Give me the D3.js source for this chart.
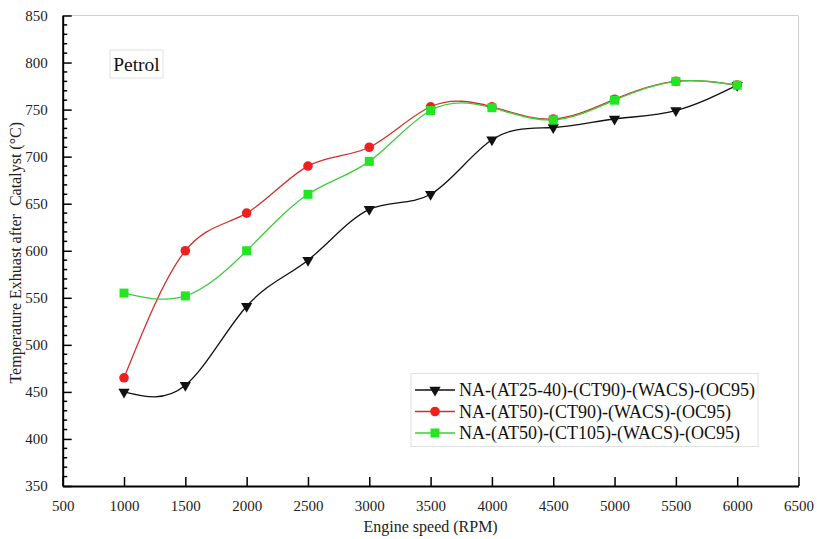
<!DOCTYPE html>
<html><head><meta charset="utf-8">
<script src="https://cdn.jsdelivr.net/npm/d3@7"></script>
<style>body{margin:0;background:#fff}svg{display:block}text{font-family:"Liberation Serif","Times New Roman",serif}</style>
</head><body>
<svg id="c" width="817" height="539"></svg>
<script>
const rpm = [1000,1500,2000,2500,3000,3500,4000,4500,5000,5500,6000];
const seriesNames = ["NA-(AT25-40)-(CT90)-(WACS)-(OC95)","NA-(AT50)-(CT90)-(WACS)-(OC95)","NA-(AT50)-(CT105)-(WACS)-(OC95)"];
const blackVals = [450,457,541,590,644,660,718,731,740,749,776];
const redVals   = [465,600,640,690,710,753,753,740,761,780,776];
const greenVals = [555,552,600,660,695,749,752,739,760,780,776];
const xTicks = [500,1000,1500,2000,2500,3000,3500,4000,4500,5000,5500,6000,6500];
const yTicks = [350,400,450,500,550,600,650,700,750,800,850];
const xTitle = "Engine speed (RPM)";
const yTitle = "Temperature Exhuast after  Catalyst (°C)";
const panelLabel = "Petrol";

const svg = d3.select("#c");
const L=62.7, R=798.5, T=15.5, B=486;
const x = d3.scaleLinear().domain([500,6500]).range([L,R]);
const y = d3.scaleLinear().domain([350,850]).range([B,T]);
const font = '"Liberation Serif","Times New Roman",serif';

// frame (top/right grey)
svg.append("path").attr("d",`M${L},${T}H${R}V${B}`).attr("fill","none").attr("stroke","#cfcfcf").attr("stroke-width",1);

// axes
const xAxis = d3.axisBottom(x).tickValues(xTicks).tickSizeInner(-9).tickSizeOuter(0).tickPadding(14).tickFormat(d3.format("d"));
const gx = svg.append("g").attr("transform",`translate(0,${B})`).call(xAxis);
gx.attr("font-family",null);
gx.select(".domain").attr("stroke","#000").attr("stroke-width",2);
gx.selectAll(".tick line").attr("stroke","#000").attr("stroke-width",1.5);
gx.selectAll("text").style("font-family",font).style("font-size","15px").attr("fill","#222");

const yMinor = d3.range(360,850,10).filter(v=>v%50!==0);
svg.append("g").selectAll("line").data(yMinor).join("line")
  .attr("x1",L).attr("x2",L+4.5).attr("y1",d=>y(d)).attr("y2",d=>y(d)).attr("stroke","#000").attr("stroke-width",1.5);
const yAxis = d3.axisLeft(y).tickValues(yTicks).tickSizeInner(-9).tickSizeOuter(0).tickPadding(15).tickFormat(d3.format("d"));
const gy = svg.append("g").attr("transform",`translate(${L},0)`).call(yAxis);
gy.attr("font-family",null);
gy.select(".domain").attr("stroke","#000").attr("stroke-width",2);
gy.selectAll(".tick line").attr("stroke","#000").attr("stroke-width",1.5);
gy.selectAll("text").style("font-family",font).style("font-size","15px").attr("fill","#222");

// titles
svg.append("text").attr("x",(L+R)/2).attr("y",532).attr("text-anchor","middle")
  .style("font-family",font).style("font-size","16px").attr("fill","#222").text(xTitle);
svg.append("text").attr("transform",`translate(21,${(T+B)/2+2}) rotate(-90)`).attr("text-anchor","middle")
  .style("font-family",font).style("font-size","16px").attr("fill","#222").style("white-space","pre").text(yTitle);

// panel label
svg.append("rect").attr("x",110).attr("y",50).attr("width",53).attr("height",28).attr("fill","#fff").attr("stroke","#e2e2e2");
svg.append("text").attr("x",136.5).attr("y",71).attr("text-anchor","middle").style("font-family",font).style("font-size","19.5px").attr("fill","#111").text(panelLabel);

const series = [
  {vals: blackVals, line:"#111", fill:"#111", shape:"tri"},
  {vals: redVals, line:"#d0302a", fill:"#ee2020", shape:"circ"},
  {vals: greenVals, line:"#3dcc3d", fill:"#22e622", shape:"sq"}
];
const line = d3.line().x((d,i)=>x(rpm[i])).y(d=>y(d)).curve(d3.curveNatural);
series.forEach(s=>{
  svg.append("path").attr("d",line(s.vals)).attr("fill","none").attr("stroke",s.line).attr("stroke-width",1.3);
});
const tri = d3.symbol().type(d3.symbolTriangle).size(55);
function marker(g, s, cx, cy){
  if(s.shape==="tri") g.append("path").attr("d",tri()).attr("transform",`translate(${cx},${cy}) rotate(180)`).attr("fill",s.fill);
  else if(s.shape==="circ") g.append("circle").attr("cx",cx).attr("cy",cy).attr("r",4.8).attr("fill",s.fill);
  else g.append("rect").attr("x",cx-4.5).attr("y",cy-4.5).attr("width",9).attr("height",9).attr("fill",s.fill);
}
series.forEach(s=>{
  const g = svg.append("g");
  s.vals.forEach((v,i)=>marker(g,s,x(rpm[i]),y(v)));
});

// legend
svg.append("rect").attr("x",411).attr("y",373.5).attr("width",347).attr("height",73).attr("fill","#fff").attr("stroke","#e0e0e0");
const rowsY=[390,411.5,433];
series.forEach((s,i)=>{
  const g = svg.append("g");
  g.append("line").attr("x1",415).attr("x2",455).attr("y1",rowsY[i]).attr("y2",rowsY[i]).attr("stroke",s.line).attr("stroke-width",1.3);
  marker(g,s,435,rowsY[i]);
  g.append("text").attr("x",459).attr("y",rowsY[i]+6).style("font-family",font).style("font-size","18px").attr("fill","#111").text(seriesNames[i]);
});
</script>
</body></html>
